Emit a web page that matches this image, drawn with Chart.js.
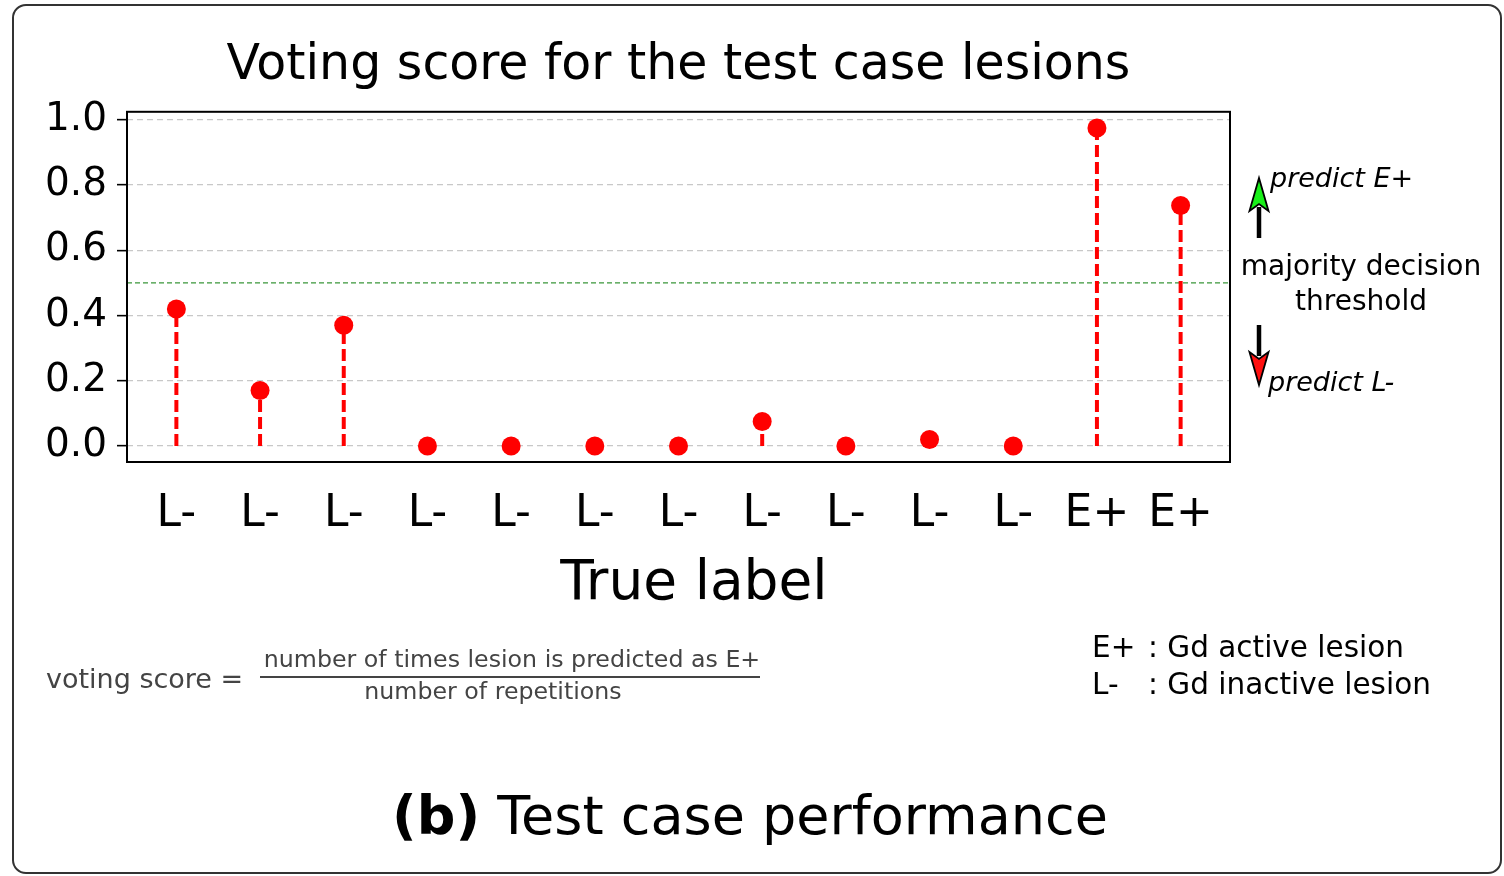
<!DOCTYPE html>
<html lang="en">
<head>
<meta charset="UTF-8">
<title>Voting score for the test case lesions</title>
<style>
  body {
    margin: 0;
    width: 1504px;
    height: 876px;
    background: #fff;
    font-family: 'DejaVu Sans', sans-serif;
    position: relative;
    overflow: hidden;
  }
  .frame {
    position: absolute;
    left: 12px;
    top: 4px;
    width: 1486px;
    height: 866px;
    border: 2px solid #333;
    border-radius: 14px;
  }
  #chart { position: absolute; left: 0; top: 0; }
  .t {
    position: absolute;
    white-space: nowrap;
    line-height: 1;
    transform: translateY(-50%);
  }
  .tc { transform: translate(-50%, -50%); }
  .side { font-size: 27px; color: #000; }
  .it { font-style: italic; }
  .formula { color: #444; }
  .legend { font-size: 29.5px; color: #000; }
  .fracline {
    position: absolute;
    left: 260px;
    top: 676px;
    width: 500px;
    height: 2px;
    background: #444;
  }
  .caption { font-size: 54px; color: #000; }
  .xtitle { font-size: 55px; color: #000; }
</style>
</head>
<body>
<div class="frame"></div>
<canvas id="chart" width="1504" height="876"></canvas>

<div class="t tc xtitle" style="left:694px; top:580px;">True label</div>

<div class="t side it" style="left:1270px; top:177px;">predict E+</div>
<div class="t tc side" style="left:1361px; top:266px; font-size:28px;">majority decision</div>
<div class="t tc side" style="left:1361px; top:301px; font-size:28px;">threshold</div>
<div class="t side it" style="left:1268px; top:381px;">predict L-</div>

<div class="t formula" style="left:46px; top:678px; font-size:27px;">voting score =</div>
<div class="t tc formula" style="left:512px; top:660px; font-size:23.7px;">number of times lesion is predicted as E+</div>
<div class="fracline"></div>
<div class="t tc formula" style="left:493px; top:692px; font-size:23.7px;">number of repetitions</div>

<div class="t legend" style="left:1092px; top:648px;">E+</div>
<div class="t legend" style="left:1148px; top:648px;">: Gd active lesion</div>
<div class="t legend" style="left:1092px; top:685px;">L-</div>
<div class="t legend" style="left:1148px; top:685px;">: Gd inactive lesion</div>

<div class="t tc caption" style="left:750px; top:816px;"><b>(b)</b> Test case performance</div>

<script src="https://cdn.jsdelivr.net/npm/chart.js"></script>
<script>
// data
const lesionLabels = ['L-', 'L-', 'L-', 'L-', 'L-', 'L-', 'L-', 'L-', 'L-', 'L-', 'L-', 'E+', 'E+'];
const votingScores = [0.42, 0.17, 0.37, 0, 0, 0, 0, 0.075, 0, 0.02, 0, 0.975, 0.737];
const yTicks = [0, 0.2, 0.4, 0.6, 0.8, 1.0];
const threshold = 0.5;

const xMin = -0.59;
const xMax = lesionLabels.length - 1 + 0.59;
const font = "'DejaVu Sans', sans-serif";

// dashed stems from 0 up to each score
const stems = votingScores.map((v, i) => ({
    type: 'line',
    data: [{x: i, y: 0}, {x: i, y: v}],
    borderColor: '#ff0000',
    borderWidth: 4,
    borderDash: [12, 5],
    pointRadius: 0,
    fill: false,
    order: 2
}));

const frameAndArrows = {
    id: 'frameAndArrows',
    afterDraw(chart) {
        const c = chart.ctx;
        const a = chart.chartArea;
        c.save();
        c.strokeStyle = '#000';
        c.lineWidth = 2;
        c.strokeRect(a.left, a.top, a.right - a.left, a.bottom - a.top);

        // arrows next to the threshold note
        function arrow(x, yFrom, yTo, fill) {
            const dir = yTo < yFrom ? -1 : 1;
            const headLen = 33;
            const baseY = yTo - dir * headLen;
            c.strokeStyle = '#000';
            c.lineWidth = 4.5;
            c.beginPath();
            c.moveTo(x, yFrom);
            c.lineTo(x, baseY + dir * 4);
            c.stroke();
            c.beginPath();
            c.moveTo(x, yTo);
            c.lineTo(x - 9.5, baseY);
            c.lineTo(x, baseY + dir * 7);
            c.lineTo(x + 9.5, baseY);
            c.closePath();
            c.fillStyle = fill;
            c.fill();
            c.lineWidth = 1.8;
            c.stroke();
        }
        arrow(1259, 238, 178, '#19f019');
        arrow(1259, 325, 385, '#ff1010');
        c.restore();
    }
};

new Chart(document.getElementById('chart'), {
    type: 'scatter',
    data: {
        datasets: [
            {
                type: 'scatter',
                data: votingScores.map((v, i) => ({x: i, y: v})),
                pointRadius: 9.5,
                pointHoverRadius: 9.5,
                pointBackgroundColor: '#ff0000',
                pointBorderWidth: 0,
                order: 0
            },
            ...stems,
            {
                type: 'line',
                data: [{x: xMin, y: threshold}, {x: xMax, y: threshold}],
                borderColor: '#3a963a',
                borderWidth: 1.3,
                borderDash: [5, 3],
                pointRadius: 0,
                order: 3
            }
        ]
    },
    options: {
        responsive: false,
        animation: false,
        devicePixelRatio: 1,
        layout: { padding: { left: 0, right: 274, top: 0, bottom: 0 } },
        plugins: {
            legend: { display: false },
            tooltip: { enabled: false },
            title: {
                display: true,
                fullSize: false,
                text: 'Voting score for the test case lesions',
                color: '#000',
                font: { family: font, size: 49, weight: 'normal', lineHeight: 1.2 },
                padding: { top: 37, bottom: 16 }
            }
        },
        scales: {
            x: {
                type: 'linear',
                min: xMin,
                max: xMax,
                afterBuildTicks: s => { s.ticks = lesionLabels.map((_, i) => ({value: i})); },
                afterFit: s => { s.height = 414; },
                grid: { display: false, drawTicks: false },
                border: { display: false },
                ticks: {
                    color: '#000',
                    padding: 26,
                    maxRotation: 0,
                    autoSkip: false,
                    font: { family: font, size: 44, lineHeight: 1.2 },
                    callback: v => lesionLabels[v]
                }
            },
            y: {
                min: -0.049,
                max: 1.0245,
                afterBuildTicks: s => { s.ticks = yTicks.map(v => ({value: v})); },
                afterFit: s => { s.width = 127; },
                grid: {
                    color: '#c8c8c8',
                    lineWidth: 1.3,
                    tickColor: '#000',
                    tickWidth: 1.6,
                    tickLength: 10,
                    tickBorderDash: []
                },
                border: { display: false, dash: [6, 4] },
                ticks: {
                    color: '#000',
                    padding: 10,
                    font: { family: font, size: 39 },
                    callback: v => v.toFixed(1)
                }
            }
        }
    },
    plugins: [frameAndArrows]
});
</script>
</body>
</html>
